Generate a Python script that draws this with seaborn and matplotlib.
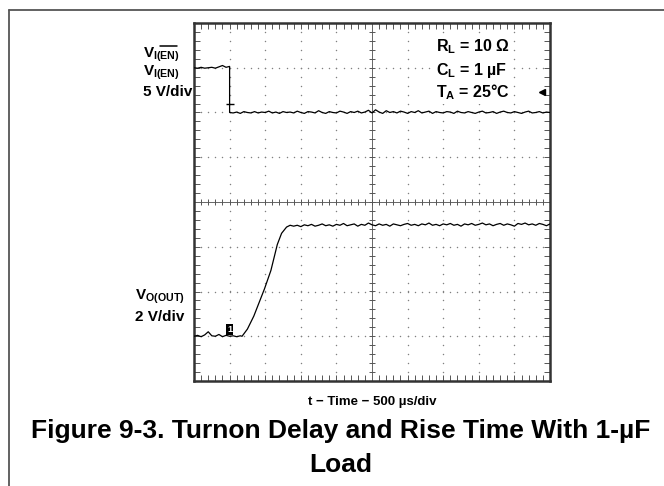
import numpy as np
import pandas as pd
import matplotlib
matplotlib.use("Agg")
import matplotlib.pyplot as plt
from matplotlib.lines import Line2D
from matplotlib.ticker import MultipleLocator
import seaborn as sns

# ---------------- data (scope divisions) ----------------
# Enable input trace, 5 V/div
en_high = [3.00, 2.99, 3.01, 2.99, 3.00, 3.01, 2.99, 3.02, 3.05, 3.01, 3.03]  # t = 0.0 .. 1.0
en_low = [2.00, 1.99, 2.01, 1.98, 2.02, 2.00, 1.99, 2.02, 1.99, 2.01,
          2.00, 2.03, 1.99, 2.01, 1.98, 2.02, 2.00, 2.01, 1.99, 2.03,
          2.00, 1.98, 2.02, 2.01, 1.99, 2.04, 2.00, 1.98, 2.02, 2.00,
          1.99, 2.03, 2.01, 1.98, 2.02, 2.00, 2.03, 1.99, 2.01, 2.05,
          1.99, 2.06, 2.01, 1.98, 2.04, 2.00, 2.02, 1.99, 2.03, 2.01,
          1.98, 2.02, 2.00, 2.04, 1.99, 2.01, 2.03, 1.98, 2.02, 2.00,
          1.99, 2.02, 2.01, 1.98, 2.03, 2.00, 1.99, 2.02, 2.00, 1.98,
          2.01, 2.03, 1.99, 2.00, 2.02, 1.98, 2.01, 2.03, 2.00, 1.99,
          2.02, 2.00, 1.98, 2.01, 2.03, 1.99, 2.00, 2.02, 1.99, 2.01, 2.00]  # t = 1.0 .. 10.0

# Output trace, 2 V/div
vo_low = [-3.00, -2.98, -3.01, -2.97, -2.90, -2.99, -3.00, -2.96, -3.01, -2.98,
          -3.00, -2.99, -3.01, -2.99]  # t = 0.0 .. 1.3
rise_t = [1.35, 1.50, 1.68, 1.98, 2.16, 2.34, 2.46, 2.60, 2.70]
rise_v = [-3.00, -2.84, -2.55, -1.94, -1.53, -0.95, -0.70, -0.56, -0.52]
vo_high = [-0.54, -0.52, -0.55, -0.51, -0.53, -0.50, -0.54, -0.52, -0.49, -0.53,
           -0.51, -0.54, -0.50, -0.52, -0.48, -0.53, -0.51, -0.49, -0.54, -0.50,
           -0.52, -0.47, -0.51, -0.53, -0.49, -0.52, -0.50, -0.54, -0.49, -0.51,
           -0.53, -0.50, -0.48, -0.52, -0.50, -0.53, -0.49, -0.51, -0.47, -0.52,
           -0.50, -0.53, -0.49, -0.51, -0.48, -0.52, -0.50, -0.54, -0.49, -0.51,
           -0.48, -0.52, -0.50, -0.47, -0.51, -0.49, -0.53, -0.50, -0.48, -0.52,
           -0.49, -0.51, -0.54, -0.48, -0.50, -0.47, -0.51, -0.49, -0.52, -0.48,
           -0.50, -0.53, -0.49]  # t = 2.8 .. 10.0

annot_lines = [r"R$_\mathrm{L}$ = 10 Ω", r"C$_\mathrm{L}$ = 1 µF", r"T$_\mathrm{A}$ = 25°C"]
x_label = "t − Time − 500 µs/div"
title1 = "Figure 9-3. Turnon Delay and Rise Time With 1-µF"
title2 = "Load"

# ---------------- style ----------------
sns.set_theme(style="white")
plt.rcParams["font.family"] = ["Liberation Sans", "DejaVu Sans"]
plt.rcParams["font.weight"] = "bold"
plt.rcParams["text.color"] = "black"
plt.rcParams["mathtext.fontset"] = "custom"
plt.rcParams["mathtext.rm"] = "Liberation Sans:bold"
plt.rcParams["mathtext.it"] = "Liberation Sans:bold"
plt.rcParams["mathtext.bf"] = "Liberation Sans:bold"

W, H = 664, 486
fig = plt.figure(figsize=(W / 100, H / 100), dpi=100)
fig.patch.set_facecolor("white")

def fx(px):
    return px / W

def fy(py):
    return 1 - py / H

ax = fig.add_axes([fx(194), fy(381), fx(550) - fx(194), fy(23) - fy(381)])
ax.set_xlim(0, 10)
ax.set_ylim(-4, 4)
ax.set_facecolor("white")

# grid dots
dot_x, dot_y = [], []
for k in range(1, 10):
    if k == 5:
        continue
    for yy in np.arange(-4, 4.001, 0.2):
        dot_x.append(k); dot_y.append(yy)
for j in range(-3, 4):
    if j == 0:
        continue
    for xx in np.arange(0, 10.001, 0.2):
        dot_x.append(xx); dot_y.append(j)
ax.scatter(dot_x, dot_y, s=1.1, color="#808080", linewidths=0, zorder=1)

# centre crosshair with ticks
ax.axhline(0, color="#666666", lw=0.7, zorder=1)
ax.axvline(5, color="#666666", lw=0.7, zorder=1)
tks = np.arange(0, 10.001, 0.2)
ax.plot(tks, np.zeros_like(tks), ls="none", marker="|", ms=5, mew=0.7, color="#555555", zorder=1)
tky = np.arange(-4, 4.001, 0.2)
ax.plot(np.full_like(tky, 5.0), tky, ls="none", marker="_", ms=5, mew=0.7, color="#555555", zorder=1)

# traces
en_t = list(np.linspace(0.0, 1.0, len(en_high))) + list(np.linspace(1.0, 10.0, len(en_low)))
en_v = en_high + en_low
vo_t = list(np.linspace(0.0, 1.3, len(vo_low))) + rise_t + list(np.linspace(2.8, 10.0, len(vo_high)))
vo_v = vo_low + rise_v + vo_high
df_en = pd.DataFrame({"t": en_t, "v": en_v})
df_vo = pd.DataFrame({"t": vo_t, "v": vo_v})
sns.lineplot(data=df_en, x="t", y="v", color="black", lw=0.9, estimator=None, sort=False, ax=ax, zorder=3)
sns.lineplot(data=df_vo, x="t", y="v", color="black", lw=0.9, estimator=None, sort=False, ax=ax, zorder=3)

# scope markers
ax.plot([1.0], [2.2], marker="_", ms=6, mew=1.0, color="black", zorder=4)
ax.text(1.0, -2.84, "1", color="white", fontsize=6.5, ha="center", va="center",
        bbox=dict(facecolor="black", edgecolor="none", pad=0.8), zorder=4)
ax.plot([9.77], [2.45], marker="<", ms=4, color="black", zorder=4)

# axes frame and ticks
ax.xaxis.set_major_locator(MultipleLocator(1))
ax.yaxis.set_major_locator(MultipleLocator(1))
ax.xaxis.set_minor_locator(MultipleLocator(0.2))
ax.yaxis.set_minor_locator(MultipleLocator(0.2))
ax.tick_params(which="both", direction="in", length=4, width=0.7, color="#555555",
               top=True, right=True, bottom=True, left=True,
               labelbottom=False, labelleft=False)
for sp in ax.spines.values():
    sp.set_color("#333333")
    sp.set_linewidth(1.8)
ax.set_xlabel("")
ax.set_ylabel("")
ax.grid(False)

# annotation block
for txt, py in zip(annot_lines, [47, 70, 92]):
    fig.text(fx(436), fy(py), txt, fontsize=11.5, fontweight="bold", ha="left", va="center",
             bbox=dict(facecolor="white", edgecolor="none", pad=1.5), zorder=5)

# left channel labels
fig.text(fx(143), fy(55), r"V$_\mathrm{I(EN)}$", fontsize=11, ha="left", va="center")
fig.add_artist(Line2D([fx(160), fx(177)], [fy(46), fy(46)], color="black", lw=1.1))
fig.text(fx(143), fy(73), r"V$_\mathrm{I(EN)}$", fontsize=11, ha="left", va="center")
fig.text(fx(143), fy(92), "5 V/div", fontsize=11, ha="left", va="center")
fig.text(fx(135), fy(297), r"V$_\mathrm{O(OUT)}$", fontsize=11, ha="left", va="center")
fig.text(fx(135), fy(317), "2 V/div", fontsize=11, ha="left", va="center")

# x label and caption
fig.text(fx(372), fy(402), x_label, fontsize=9.5, ha="center", va="center")
fig.text(fx(341), fy(438), title1, fontsize=19, ha="center", va="baseline")
fig.text(fx(341), fy(472), title2, fontsize=19, ha="center", va="baseline")

# outer document frame
fig.add_artist(Line2D([fx(8.7), fx(8.7)], [0, fy(10)], color="#555555", lw=1.3))
fig.add_artist(Line2D([fx(8.7), 1.0], [fy(10), fy(10)], color="#555555", lw=1.3))

fig.savefig("out.png", dpi=100)
